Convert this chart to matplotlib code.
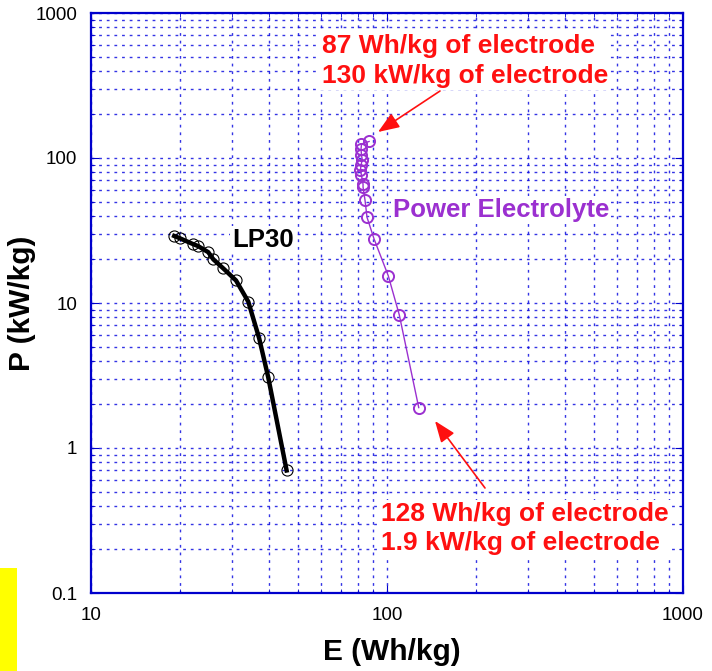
import matplotlib
matplotlib.use("Agg")
import matplotlib.pyplot as plt
from matplotlib import font_manager
from matplotlib.patches import Rectangle
from matplotlib.ticker import LogLocator, NullFormatter, FixedLocator, FixedFormatter

# Pick a sans family that actually ships a bold face
_preferred = ["Liberation Sans", "Arimo", "Roboto", "Open Sans", "Lato", "Noto Sans", "DejaVu Sans"]
_bold_families = {f.name for f in font_manager.fontManager.ttflist
                  if (f.weight == 700 or f.weight == "bold") and f.style == "normal"}
_bold_family = next((n for n in _preferred if n in _bold_families), "DejaVu Sans")
plt.rcParams['font.family'] = ['Liberation Sans', 'DejaVu Sans']
BOLD = dict(family=[_bold_family, 'DejaVu Sans'], fontweight="bold")
WHITE_BOX = dict(facecolor="white", edgecolor="none", pad=1.5)

# LP30 electrolyte: energy (Wh/kg) vs power (kW/kg)
lp30_E = [19.1, 20.0, 22.1, 23.0, 24.9, 25.9, 28.0, 30.9, 34.0, 37.0, 39.7, 45.8]
lp30_P = [29.0, 27.9, 25.5, 24.7, 22.4, 20.0, 17.3, 14.3, 10.2, 5.7, 3.07, 0.70]

# Power electrolyte
pe_E = [87.0, 82.0, 81.7, 82.0, 82.5, 81.7, 81.3, 82.0, 83.0, 83.0, 84.3, 85.6, 90.4, 101.0, 110.0, 128.0]
pe_P = [130.0, 125.0, 115.0, 105.0, 97.0, 89.5, 82.0, 76.0, 66.0, 63.0, 51.0, 39.0, 27.7, 15.4, 8.3, 1.9]

x_ticks = [10, 100, 1000]
x_tick_labels = ["10", "100", "1000"]
y_ticks = [0.1, 1, 10, 100, 1000]
y_tick_labels = ["0.1", "1", "10", "100", "1000"]

grid_blue = "#1010E0"
purple = "#9B30D0"
red = "#FF1010"

fig = plt.figure(figsize=(7.12, 6.71), dpi=100)
ax = fig.add_axes([91 / 712, 1 - 593 / 671, 592 / 712, 580 / 671])
ax.set_xscale("log")
ax.set_yscale("log")
ax.set_xlim(10, 1000)
ax.set_ylim(0.1, 1000)

ax.xaxis.set_major_locator(FixedLocator(x_ticks))
ax.xaxis.set_major_formatter(FixedFormatter(x_tick_labels))
ax.yaxis.set_major_locator(FixedLocator(y_ticks))
ax.yaxis.set_major_formatter(FixedFormatter(y_tick_labels))
ax.xaxis.set_minor_locator(LogLocator(base=10, subs=range(2, 10)))
ax.yaxis.set_minor_locator(LogLocator(base=10, subs=range(2, 10)))
ax.xaxis.set_minor_formatter(NullFormatter())
ax.yaxis.set_minor_formatter(NullFormatter())

ax.grid(True, which="both", color=grid_blue, linestyle=(0, (2, 3.5)), linewidth=1.0, alpha=0.85)
for s in ax.spines.values():
    s.set_color("#0000CC")
    s.set_linewidth(1.6)
ax.tick_params(which="both", direction="in", colors="#0000CC", labelcolor="black",
               top=True, right=True, labelsize=13.5)
ax.tick_params(which="major", length=6, pad=10)
ax.tick_params(which="minor", length=3)

ax.plot(lp30_E, lp30_P, color="black", linewidth=3.2, zorder=3)
ax.plot(lp30_E, lp30_P, linestyle="none", marker="o", markersize=8,
        markerfacecolor="none", markeredgecolor="black", markeredgewidth=0.8, zorder=4)

ax.plot(pe_E, pe_P, color=purple, linewidth=1.0, marker="o", markersize=8,
        markerfacecolor="none", markeredgecolor=purple, markeredgewidth=1.4, zorder=4)

fig.text(232 / 712, 1 - 240 / 671, "LP30", fontsize=18.5, color="black",
         va="center", ha="left", bbox=WHITE_BOX, **BOLD)
fig.text(393 / 712, 1 - 210 / 671, "Power Electrolyte", fontsize=18.5,
         color=purple, va="center", ha="left", bbox=WHITE_BOX, **BOLD)

fig.text(322 / 712, 1 - 61 / 671, "87 Wh/kg of electrode\n130 kW/kg of electrode",
         fontsize=19, color=red, va="center", ha="left", linespacing=1.3,
         bbox=WHITE_BOX, **BOLD)
fig.text(381 / 712, 1 - 528.5 / 671, "128 Wh/kg of electrode\n1.9 kW/kg of electrode",
         fontsize=19, color=red, va="center", ha="left", linespacing=1.3,
         bbox=WHITE_BOX, **BOLD)

arrow_props = dict(arrowstyle="-|>,head_length=1.3,head_width=0.5", color=red, linewidth=1.2,
                   shrinkA=0, shrinkB=0)
ax.annotate("", xy=(378 / 712, 1 - 132 / 671), xytext=(440 / 712, 1 - 91 / 671),
            xycoords="figure fraction", textcoords="figure fraction", arrowprops=arrow_props)
ax.annotate("", xy=(435 / 712, 1 - 421 / 671), xytext=(485 / 712, 1 - 488 / 671),
            xycoords="figure fraction", textcoords="figure fraction", arrowprops=arrow_props)

ax.set_xlabel("E (Wh/kg)", fontsize=21.5, **BOLD)
ax.set_ylabel("P (kW/kg)", fontsize=21.5, **BOLD)
ax.xaxis.set_label_coords((392 - 91) / 592, -(652 - 593) / 580)
ax.xaxis.label.set_verticalalignment("center")
ax.yaxis.set_label_coords((22 - 91) / 592, 0.5)
ax.yaxis.label.set_verticalalignment("center")
ax.yaxis.label.set_horizontalalignment("center")

fig.patches.append(Rectangle((0, 0), 17 / 712, 103 / 671, transform=fig.transFigure,
                             facecolor="#FFFF00", edgecolor="none"))

fig.savefig("out.png", dpi=100)
